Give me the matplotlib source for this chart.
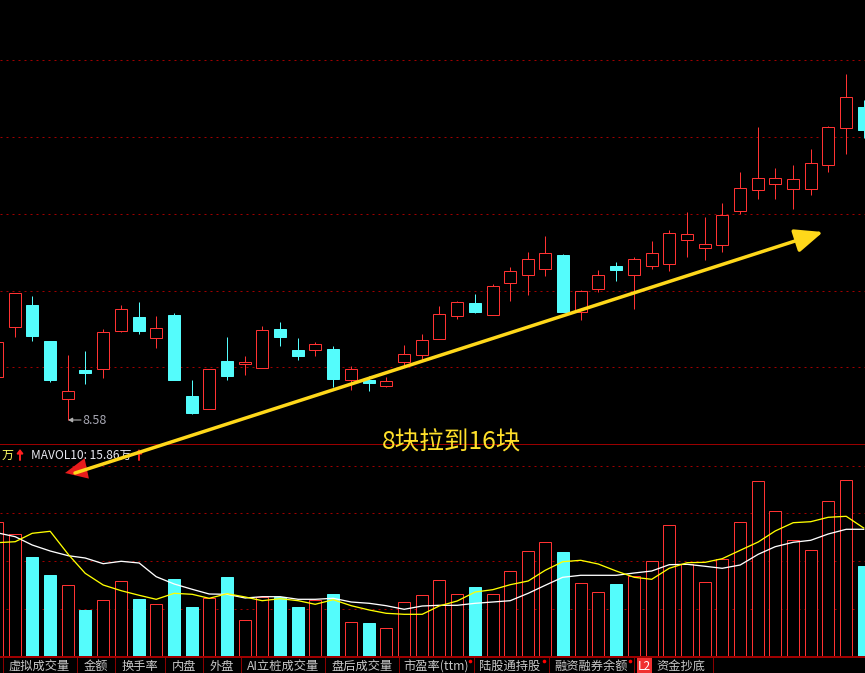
import matplotlib
matplotlib.use("Agg")
import matplotlib.pyplot as plt
from matplotlib.patches import Rectangle

plt.rcParams['font.family'] = ['Noto Sans CJK SC', 'DejaVu Sans']

W, H = 865, 673
PX = 0.72  # one pixel in points at dpi 100
RED = '#ff3232'
CYAN = '#54fcfc'
GRID = '#a00000'
TAB = '#c8c8c8'

x_pos = [-3, 15.5, 32.5, 50.5, 68.5, 85.5, 103.5, 121.5, 139.5, 156.5, 174.5, 192.5, 209.5,
         227.5, 245.5, 262.5, 280.5, 298.5, 315.5, 333.5, 351.5, 369.5, 386.5, 404.5, 422.5,
         439.5, 457.5, 475.5, 493, 510.5, 528.5, 545.5, 563, 581, 598.5, 616.5, 634.5, 652,
         669.5, 687.5, 705.5, 722.5, 740.5, 758.5, 775.5, 793.5, 811, 828.5, 846.5, 864]
# price panel readings (screen scale, smaller = higher price)
body_top = [342, 293.3, 305, 341, 391.3, 370, 332.3, 309.3, 317, 328.3, 315, 396, 369.3, 361, 362.3,
            330.3, 329, 350, 344.3, 349, 369.3, 380, 381.3, 354.3, 340.3, 314.3, 302.3, 303, 286.3,
            271.3, 259.3, 253.3, 255, 291, 275.3, 266, 259.3, 253.3, 233.3, 234.3, 244.3, 215.3,
            188.3, 178.3, 178.3, 179.3, 163.3, 127.3, 97.3, 107]
body_bot = [376.7, 326.7, 335.7, 379.7, 399.3, 372.7, 369.3, 330.7, 330.7, 337.7, 379.7, 412.7, 409.3,
            375.7, 363.7, 367.7, 336.7, 355.7, 349.7, 378.7, 379.7, 383, 385.7, 361.7, 354.7, 339.3,
            315.7, 311.7, 314.7, 282.7, 274.7, 268.7, 311.7, 311.7, 288.7, 270, 274.7, 265.7, 263.7,
            239.7, 247.7, 244.7, 210.7, 189.7, 183.7, 188.7, 188.7, 164.7, 127.7, 130]
high = [342, 292.5, 296, 341, 355, 351, 329, 305, 302, 316, 313, 380, 369.3, 337, 356, 326, 322, 338,
        342, 346, 366, 376, 377, 345, 334, 306, 301, 294, 284, 267, 252, 236, 254, 290, 270, 262,
        256.7, 241, 230, 212, 217, 203, 172, 127, 168, 165, 149, 126, 74, 100]
low = [376.7, 336.7, 340.7, 381.7, 420, 383.7, 377.7, 331.7, 333.7, 347.7, 379.7, 413.7, 409.3, 379.7,
       374.7, 367.7, 345.7, 359.7, 355.7, 386.7, 389.7, 390.7, 386.7, 366, 360, 339.3, 318.7, 312.7,
       314.7, 300.7, 295, 276, 311.7, 320, 291.7, 281, 309, 269, 271, 257, 260, 252, 214, 199, 199,
       209, 195, 172, 154, 137.7]
is_up = [1, 1, 0, 0, 1, 0, 1, 1, 0, 1, 0, 0, 1, 0, 1, 1, 0, 0, 1, 0, 1, 0, 1, 1, 1, 1, 1, 0, 1, 1,
         1, 1, 0, 1, 1, 0, 1, 1, 1, 1, 1, 1, 1, 1, 1, 1, 1, 1, 1, 0]
# volume panel readings (height above baseline)
volume = [133.5, 121.2, 98.5, 80.5, 70.2, 45.5, 55.2, 74.2, 56.5, 51.2, 76.5, 48.5, 57.5, 78.5, 35.2,
          58.8, 58.5, 48.5, 55.5, 61.5, 33.2, 32.5, 27.2, 53.2, 60.2, 75.2, 61.2, 68.5, 61.2, 84.2,
          104.2, 113.2, 103.5, 72.2, 63.2, 71.5, 79.2, 94.2, 130.2, 91.5, 73.2, 96.2, 133.2, 174.2,
          144.2, 115.2, 105.2, 154.2, 175.2, 89.5]
mavol_white = [122.8, 118.8, 110.5, 104.5, 99.8, 97.5, 91.8, 94.2, 92.5, 78.8, 71.5, 66.2, 61.5, 61.2,
               57.5, 58.8, 58.8, 56.2, 56.2, 57.2, 53.5, 52.2, 49.8, 46.2, 49.5, 50.2, 50.2, 52.2,
               53.5, 54.8, 62.2, 70.2, 78.2, 80.2, 80.2, 80.2, 82.5, 84.5, 90.8, 91.2, 89.2, 87.2,
               90.5, 101.2, 108.8, 113.2, 115.2, 121.5, 126.2, 126.2]
mavol_yellow = [112.8, 113.8, 122.2, 124.2, 101.2, 82.2, 70.5, 64.8, 60.2, 56.2, 62.2, 61.2, 57.2, 61.8,
                58.5, 54.8, 56.8, 54.8, 51.2, 55.8, 49.8, 45.5, 42.2, 41.2, 41.2, 49.5, 54.5, 63.5,
                65.8, 70.8, 74.5, 85.2, 93.8, 95.2, 91.5, 84.5, 78.2, 76.2, 87.2, 92.8, 93.2, 96.8,
                105.2, 113.5, 124.5, 132.8, 133.8, 138.2, 139.2, 127.5]
price_grid = [60, 136.5, 213.5, 290.5, 367]
vol_grid = [189.5, 143, 95, 47]

tab_labels = ['虚拟成交量', '金额', '换手率', '内盘', '外盘', 'AI立桩成交量', '盘后成交量',
              '市盈率(ttm)', '陆股通持股', '融资融券余额', '资金抄底']
tab_centers = [39.5, 96, 139.5, 184, 222, 283, 362, 436, 510, 591, 681]
tab_seps = [3, 77, 115, 165, 203, 241, 325, 399, 474, 549, 634, 713]
tab_dots = [470, 544, 630]

trend_start, trend_end = (75, 473), (823, 232)
trend_label = '8块拉到16块'
low_label = '8.58'
DOTS = (0, (2, 4))


def full_pixel_axes(top, bottom):
    return fig.add_axes([0, 1 - bottom / H, 1, (bottom - top) / H])


fig = plt.figure(figsize=(W / 100, H / 100), dpi=100, facecolor='black')

# price panel
pa = full_pixel_axes(0, 444)
pa.set_xlim(0.3, W + 0.3)
pa.set_ylim(444, 0)
pa.axis('off')
for y in price_grid:
    pa.axhline(y, color=GRID, lw=PX, ls=DOTS, zorder=1, snap=True)
for x, t, b, h, l, up in zip(x_pos, body_top, body_bot, high, low, is_up):
    c = RED if up else CYAN
    pa.vlines(x, h, l, color=c, lw=PX, zorder=2, snap=True)
    pa.add_patch(Rectangle((x - 6, t), 12, b - t, facecolor='black' if up else c,
                           edgecolor=c, lw=PX, zorder=3, snap=True))

# volume panel
va = full_pixel_axes(444, 655.5)
va.set_xlim(0.3, W + 0.3)
va.set_ylim(0, 211.5)
va.axis('off')
for y in vol_grid:
    va.axhline(y, color=GRID, lw=PX, ls=DOTS, zorder=1, snap=True)
bars = va.bar(x_pos, volume, width=12,
              color=['black' if u else CYAN for u in is_up],
              edgecolor=[RED if u else CYAN for u in is_up], linewidth=PX, zorder=2)
for b in bars:
    b.set_snap(True)
va.plot(x_pos, mavol_white, color='white', lw=1.3 * PX, zorder=3)
va.plot(x_pos, mavol_yellow, color='#ffff00', lw=1.3 * PX, zorder=4)

# overlay: rules, labels, tab bar, trend arrow
oa = fig.add_axes([0, 0, 1, 1])
oa.set_xlim(0, W)
oa.set_ylim(H, 0)
oa.axis('off')
oa.patch.set_alpha(0)
oa.axhline(444.3, color='#9a0000', lw=PX)
oa.axhline(657, color='#a00000', lw=2 * PX)
for x in tab_seps:
    oa.plot([x, x], [658, H], color='#8a0000', lw=PX)
for cx, lab in zip(tab_centers, tab_labels):
    oa.text(cx, 666.5, lab, color=TAB, fontsize=8.8, ha='center', va='center')
for x in tab_dots:
    oa.plot(x, 661, 'o', color='#ff0000', ms=2.6, mew=0)
oa.text(644.5, 666, 'L2', color='white', fontsize=8.6, ha='center', va='center',
        bbox=dict(boxstyle='square,pad=0.12', fc='#f03030', ec='none'))

oa.text(2, 455, '万', color='#ffff66', fontsize=8.6, ha='left', va='center')
oa.text(31, 455, 'MAVOL10: 15.86万', color='#e8e8f0', fontsize=8.6, ha='left', va='center')
for x in (20, 139):
    oa.annotate('', xy=(x, 449), xytext=(x, 460),
                arrowprops=dict(arrowstyle='-|>,head_length=0.22,head_width=0.17', color='#ff2020', lw=1.4,
                                shrinkA=0, shrinkB=0, mutation_scale=10))
oa.annotate('', xy=(68, 420), xytext=(81, 420),
            arrowprops=dict(arrowstyle='-|>,head_length=0.25,head_width=0.13', color='#b0b0b0', lw=0.8,
                            shrinkA=0, shrinkB=0, mutation_scale=10))
oa.text(82, 421, low_label, color='#a8a8b4', fontsize=9, ha='left', va='center')

oa.annotate('', xy=(65, 473), xytext=(84, 469),
            arrowprops=dict(arrowstyle='-|>,head_length=1.6,head_width=0.75', color='#e81c1c', lw=0,
                            shrinkA=0, shrinkB=0, mutation_scale=10))
oa.annotate('', xy=trend_end, xytext=trend_start,
            arrowprops=dict(arrowstyle='-|>,head_length=1.7,head_width=0.72', color='#ffd81a', lw=2.5,
                            shrinkA=0, shrinkB=0, mutation_scale=10))
oa.text(452, 442.5, trend_label, color='#ffe02a', fontsize=17.7, ha='center', va='center')

fig.savefig('out.png', dpi=100, facecolor='black')
